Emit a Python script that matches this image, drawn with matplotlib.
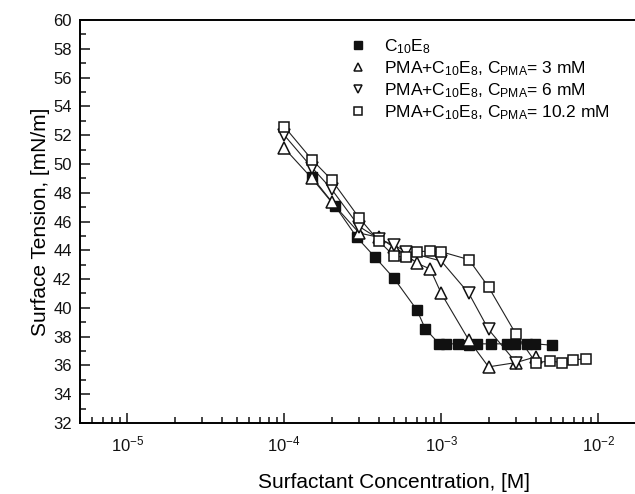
import matplotlib
matplotlib.use("Agg")
import matplotlib.pyplot as plt
from matplotlib.ticker import LogLocator, MultipleLocator, NullFormatter

plt.rcParams['font.family'] = ['Liberation Sans', 'DejaVu Sans']
plt.rcParams['mathtext.fontset'] = 'custom'
plt.rcParams['mathtext.rm'] = 'Liberation Sans'
plt.rcParams['mathtext.it'] = 'Liberation Sans'

# C10E8 alone
c_pure = [1.5e-4, 2.1e-4, 2.9e-4, 3.8e-4, 5.0e-4, 7.0e-4, 7.9e-4, 9.7e-4, 1.07e-3,
          1.27e-3, 1.5e-3, 1.7e-3, 2.06e-3, 2.63e-3, 2.97e-3, 3.53e-3, 3.98e-3, 5.1e-3]
st_pure = [49.1, 47.1, 44.9, 43.5, 42.05, 39.85, 38.55, 37.5, 37.5,
           37.5, 37.45, 37.5, 37.5, 37.5, 37.5, 37.5, 37.5, 37.4]

# PMA 3 mM
c_3 = [1.0e-4, 1.5e-4, 2.0e-4, 3.0e-4, 4.0e-4, 5.0e-4, 6.0e-4, 7.0e-4, 8.5e-4,
       1.0e-3, 1.5e-3, 2.0e-3, 3.0e-3, 4.0e-3]
st_3 = [51.1, 49.0, 47.35, 45.2, 44.9, 44.2, 43.7, 43.1, 42.7,
        41.0, 37.75, 35.9, 36.2, 36.6]

# PMA 6 mM
c_6 = [1.0e-4, 1.5e-4, 2.0e-4, 3.0e-4, 4.0e-4, 5.0e-4, 6.0e-4, 1.0e-3,
       1.5e-3, 2.0e-3, 3.0e-3]
st_6 = [52.0, 49.75, 48.25, 45.65, 44.8, 44.35, 43.9, 43.25,
        41.0, 38.5, 36.2]

# PMA 10.2 mM
c_10 = [1.0e-4, 1.5e-4, 2.0e-4, 3.0e-4, 4.0e-4, 5.0e-4, 6.0e-4, 7.0e-4, 8.5e-4,
        1.0e-3, 1.5e-3, 2.0e-3, 3.0e-3, 4.0e-3, 4.9e-3, 5.9e-3, 6.9e-3, 8.4e-3]
st_10 = [52.6, 50.3, 48.9, 46.25, 44.65, 43.6, 43.5, 43.9, 43.95,
         43.9, 43.35, 41.45, 38.15, 36.2, 36.3, 36.2, 36.4, 36.45]

labels = [r'C$_{10}$E$_8$',
          r'PMA+C$_{10}$E$_8$, C$_{\mathrm{PMA}}$= 3 mM',
          r'PMA+C$_{10}$E$_8$, C$_{\mathrm{PMA}}$= 6 mM',
          r'PMA+C$_{10}$E$_8$, C$_{\mathrm{PMA}}$= 10.2 mM']

fig = plt.figure(figsize=(6.35, 4.94), dpi=100)
ax = fig.add_axes([80 / 635, 71 / 494, 628 / 635, 403 / 494])

line_kw = dict(color='#222222', lw=0.8)
ax.plot(c_pure, st_pure, **line_kw)
ax.plot(c_3, st_3, **line_kw)
ax.plot(c_6, st_6, **line_kw)
ax.plot(c_10, st_10, **line_kw)

h1, = ax.plot(c_pure, st_pure, 's', ms=7, mfc='#111111', mec='#111111', mew=1.0, ls='none')
h2, = ax.plot(c_3, st_3, '^', ms=8, mfc='white', mec='#111111', mew=1.1, ls='none')
h3, = ax.plot(c_6, st_6, 'v', ms=8, mfc='white', mec='#111111', mew=1.1, ls='none')
h4, = ax.plot(c_10, st_10, 's', ms=7, mfc='white', mec='#111111', mew=1.1, ls='none')

ax.set_xscale('log')
ax.set_xlim(5e-6, 5e-2)
ax.set_ylim(32, 60)

ax.yaxis.set_major_locator(MultipleLocator(2))
ax.yaxis.set_minor_locator(MultipleLocator(1))
ax.xaxis.set_major_locator(LogLocator(base=10, numticks=10))
ax.xaxis.set_minor_locator(LogLocator(base=10, subs=range(2, 10), numticks=20))
ax.xaxis.set_minor_formatter(NullFormatter())

ax.tick_params(which='both', direction='in', width=1.1, labelsize=12, colors='#111111')
ax.tick_params(which='major', length=7)
ax.tick_params(which='minor', length=4)
ax.tick_params(axis='y', pad=6)
ax.tick_params(axis='x', pad=8)

for s in ['left', 'bottom', 'top']:
    ax.spines[s].set_linewidth(1.4)
ax.spines['right'].set_visible(False)

ax.set_xlabel('Surfactant Concentration, [M]', fontsize=15, labelpad=14)
ax.set_ylabel('Surface Tension, [mN/m]', fontsize=15, labelpad=2.5)

ax.legend([h1, h2, h3, h4], labels, loc='upper left', bbox_to_anchor=(0.418, 0.975),
          frameon=False, fontsize=12.5, markerscale=0.75, handlelength=1.0,
          handletextpad=1.0, labelspacing=0.2, borderaxespad=0)

fig.savefig('out.png', dpi=100)
